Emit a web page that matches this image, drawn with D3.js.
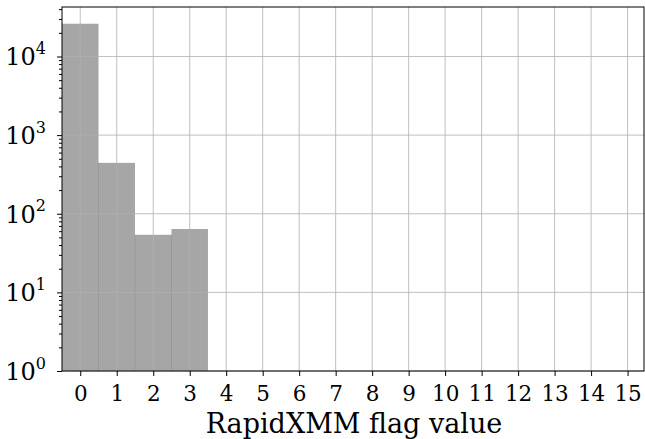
<!DOCTYPE html>
<html><head><meta charset="utf-8">
<script src="https://cdn.jsdelivr.net/npm/d3@7"></script>
<style>body{margin:0;background:#fff}</style>
</head><body>
<svg id="c" width="645" height="439"></svg>
<script>
const categories = [0,1,2,3,4,5,6,7,8,9,10,11,12,13,14,15];
const counts = [26100, 444, 54, 64];
const yTickValues = [1, 10, 100, 1000, 10000];
const xLabel = "RapidXMM flag value";

const W = 645, H = 439;
const m = {l: 62, r: 1, t: 7, b: 68};
const svg = d3.select("#c");
const font = "DejaVu Serif";

const x = d3.scaleLinear().domain([-0.5, 15.45]).range([m.l, W - m.r]);
const y = d3.scaleLog().domain([1, 42600]).range([H - m.b, m.t]);

const g = svg.append("g");

// bars
g.selectAll("rect.bar").data(counts).enter().append("rect")
  .attr("x", (d, i) => x(i - 0.5))
  .attr("width", (d, i) => x(i + 0.5) - x(i - 0.5))
  .attr("y", d => y(d))
  .attr("height", d => y(1) - y(d))
  .attr("fill", "#a6a6a6");
// bar edges
g.selectAll("line.edge").data(counts).enter().append("line")
  .attr("x1", (d, i) => x(i + 0.5)).attr("x2", (d, i) => x(i + 0.5))
  .attr("y1", (d, i) => y(Math.min(d, counts[i + 1] || d)))
  .attr("y2", y(1))
  .attr("stroke", "#999").attr("stroke-width", 1)
  .attr("display", (d, i) => i < counts.length - 1 ? null : "none");

// grid on top
g.selectAll("line.gx").data(categories).enter().append("line")
  .attr("x1", d => x(d)).attr("x2", d => x(d))
  .attr("y1", m.t).attr("y2", H - m.b)
  .attr("stroke", "#b0b0b0").attr("stroke-width", 0.8);
g.selectAll("line.gy").data(yTickValues).enter().append("line")
  .attr("x1", m.l).attr("x2", W - m.r)
  .attr("y1", d => y(d)).attr("y2", d => y(d))
  .attr("stroke", "#b0b0b0").attr("stroke-width", 0.8);

// frame
svg.append("rect").attr("x", m.l).attr("y", m.t)
  .attr("width", W - m.r - m.l).attr("height", H - m.b - m.t)
  .attr("fill", "none").attr("stroke", "#000").attr("stroke-width", 1);

// x axis
const xAxis = d3.axisBottom(x).tickValues(categories).tickSize(5).tickPadding(10).tickFormat(d3.format("d"));
const gx = svg.append("g").attr("transform", `translate(0,${H - m.b})`).call(xAxis);
gx.select(".domain").remove();
gx.selectAll("text").attr("font-family", font).attr("font-size", 21.5).attr("fill", "#000");

// y axis
const minor = [];
for (let e = 0; e < 5; e++) for (let k = 2; k <= 9; k++) { const v = k * Math.pow(10, e); if (v < 42600) minor.push(v); }
const gyMin = svg.append("g").attr("transform", `translate(${m.l},0)`)
  .call(d3.axisLeft(y).tickValues(minor).tickSize(3).tickFormat(""));
gyMin.select(".domain").remove();
const gy = svg.append("g").attr("transform", `translate(${m.l},0)`)
  .call(d3.axisLeft(y).tickValues(yTickValues).tickSize(5).tickFormat(""));
gy.select(".domain").remove();
gy.selectAll(".tick").each(function(d) {
  const t = d3.select(this).append("text").attr("x", -16).attr("dy", "0.35em")
    .attr("text-anchor", "end").attr("font-family", font).attr("font-size", 24).attr("fill", "#000");
  t.append("tspan").text("10");
  t.append("tspan").attr("font-size", 16).attr("dy", "-0.7em").text(Math.round(Math.log10(d)));
});

svg.append("text").attr("x", (m.l + W - m.r) / 2 + 1).attr("y", H - 6)
  .attr("text-anchor", "middle").attr("font-family", font).attr("font-size", 27).attr("fill", "#000")
  .text(xLabel);
</script>
</body></html>
